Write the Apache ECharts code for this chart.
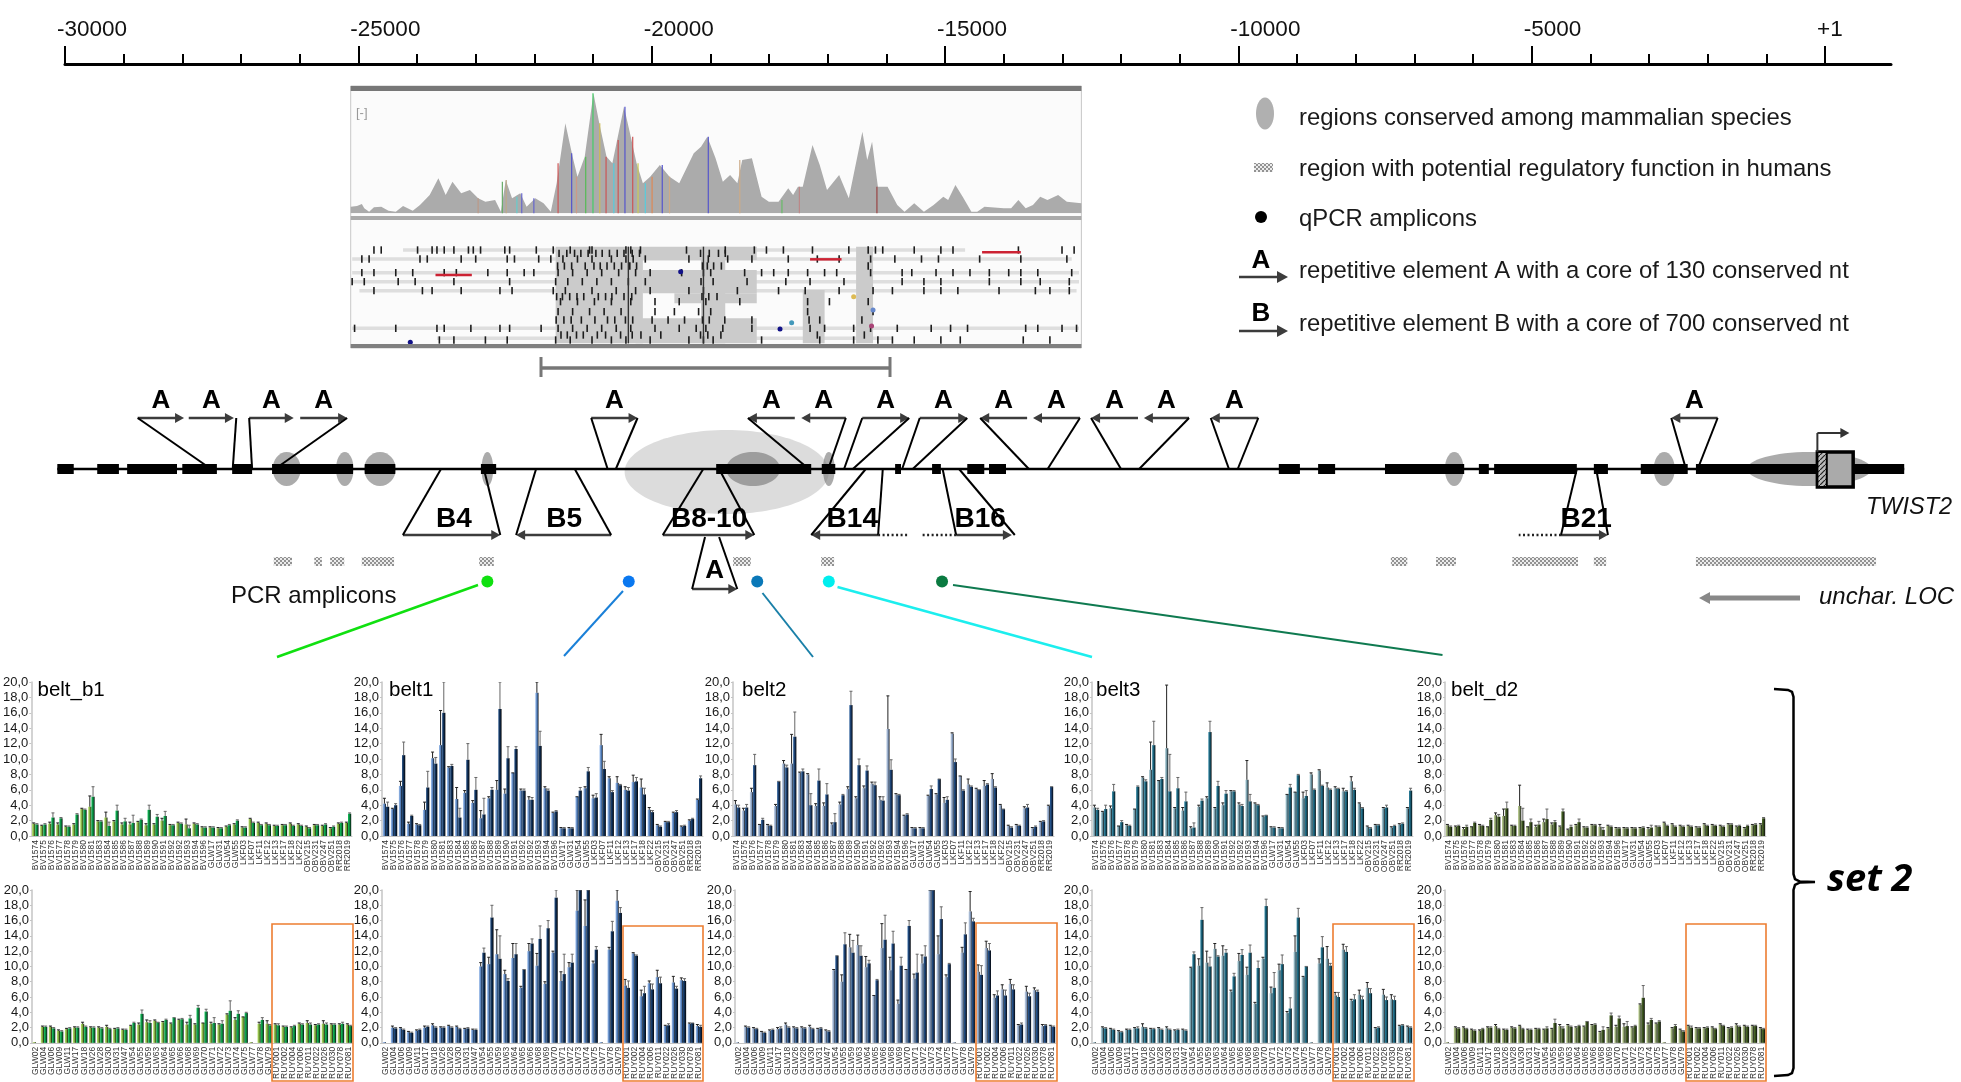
<!DOCTYPE html>
<html>
<head>
<meta charset="utf-8">
<title>TWIST2 upstream region, belt methylation</title>
<script src="https://cdn.jsdelivr.net/npm/echarts@6/dist/echarts.min.js"></script>
<style>html,body{margin:0;padding:0;background:#fff}#main{width:1961px;height:1082px}</style>
</head>
<body>
<div id="main"></div>
<script>
// 样本名
var topCats = ['BV1574','BV1575','BV1576','BV1577','BV1578','BV1579','BV1580','BV1581','BV1583','BV1584','BV1585','BV1586','BV1587','BV1588','BV1589','BV1590','BV1591','BV1592','BV1592','BV1593','BV1594','BV1596','GLW17','GLW31','GLW54','GLW55','LKF03','LKF07','LKF11','LKF12','LKF13','LKF17','LKF18','LKF22','OBV215','OBV231','OBV247','OBV251','RR2018','RR2019'];
var botCats = ['GLW02','GLW04','GLW06','GLW09','GLW11','GLW17','GLW18','GLW26','GLW28','GLW30','GLW31','GLW47','GLW54','GLW55','GLW59','GLW63','GLW64','GLW65','GLW66','GLW68','GLW69','GLW70','GLW71','GLW72','GLW73','GLW74','GLW75','GLW77','GLW78','GLW79','RUY001','RUY002','RUY004','RUY006','RUY011','RUY022','RUY026','RUY030','RUY078','RUY081'];
var yTicks = 2;

// belt_b1
var b1TopA = [1.6,1.3,1.6,1.5,1.2,1.5,3.5,3.8,1.9,2.4,1.9,1.5,1.5,1.8,1.4,1.5,2.0,1.4,1.7,1.5,1.6,1.1,1.1,1.0,1.2,1.5,1.1,2.2,1.7,1.6,1.3,1.4,1.6,1.5,1.2,1.4,1.3,1.0,1.6,1.7];
var b1TopB = [1.5,1.5,2.4,2.3,1.2,2.8,3.4,5.1,1.9,1.3,3.3,1.9,1.7,2.1,3.4,2.5,2.6,1.4,1.6,1.0,1.5,1.1,1.1,1.0,1.4,2.0,1.1,1.7,1.4,1.4,1.3,1.4,1.3,1.3,1.0,1.4,1.5,1.2,1.7,2.9];
var b1TopAErr = [1.7,1.4,1.8,1.7,1.3,1.6,3.6,5.2,2.0,3.1,2.0,1.7,1.8,1.9,1.6,1.6,2.3,1.5,1.8,2.2,1.7,1.2,1.2,1.1,1.3,1.6,1.2,2.3,1.8,1.7,1.4,1.5,1.7,1.6,1.3,1.5,1.4,1.1,1.7,1.8];
var b1TopBErr = [1.6,1.6,3.0,2.4,1.3,2.9,3.5,6.4,2.0,1.8,4.0,2.3,2.7,2.2,4.0,2.8,3.2,1.5,1.7,1.4,1.6,1.2,1.2,1.1,1.5,2.1,1.2,1.8,1.5,1.5,1.4,1.5,1.4,1.4,1.1,1.5,1.6,1.3,1.8,3.0];
var b1BotA = [0.1,2.1,2.1,1.6,1.8,2.0,2.5,2.0,2.0,2.1,1.8,1.7,2.2,2.4,2.7,2.9,2.7,2.5,3.0,2.4,2.4,2.6,2.5,2.4,3.7,3.0,3.4,0.1,2.5,2.5,2.4,2.1,2.0,2.5,2.6,2.3,2.5,2.4,2.4,2.4];
var b1BotB = [0,2.1,1.9,1.5,1.9,2.0,2.1,2.0,1.9,1.8,1.9,1.7,2.6,3.8,2.6,2.7,3.0,3.3,3.1,3.2,4.6,4.1,2.6,2.5,4.2,3.8,3.9,0,3.0,2.3,2.3,2.1,2.2,2.4,2.4,2.4,2.4,2.4,2.5,2.2];
var b1BotAErr = [0.1,2.2,2.2,1.7,1.9,2.1,2.7,2.1,2.1,2.3,1.9,1.8,2.3,2.6,3.0,3.0,2.8,2.6,3.1,2.7,2.5,2.6,2.7,2.5,3.8,3.3,3.4,0.1,2.7,2.9,2.5,2.2,2.1,2.6,2.9,2.4,2.9,2.5,2.5,2.5];
var b1BotBErr = [0,2.2,2.0,1.6,2.0,2.1,2.2,2.1,2.0,1.9,2.0,1.8,2.7,4.3,2.9,2.7,3.1,3.3,3.2,3.6,4.9,4.4,3.3,2.9,5.5,4.2,4.0,0,3.3,2.4,2.5,2.2,2.3,2.5,2.6,2.5,2.6,2.5,2.7,2.3];

// belt1
var b2TopA = [4.2,3.5,6.5,1.6,1.5,3.4,10.1,11.8,8.9,4.8,5.6,4.3,2.3,4.9,6.0,5.5,8.2,5.9,4.7,18.6,6.2,3.0,1.0,1.0,5.1,6.2,4.9,11.8,7.5,6.9,6.0,7.0,6.3,3.4,1.4,1.8,3.0,1.2,2.0,4.7];
var b2TopB = [3.8,4.0,10.5,2.6,1.4,6.3,9.4,16.0,9.1,2.4,9.9,6.0,2.8,6.0,16.5,10.1,11.3,5.9,4.7,11.7,5.9,3.2,1.0,1.0,5.9,8.4,5.0,8.7,5.7,6.6,5.9,7.1,5.4,3.1,1.2,1.8,3.1,1.3,2.2,7.5];
var b2TopAErr = [4.9,3.6,7.1,1.8,1.6,4.4,10.9,16.3,9.0,6.3,5.9,4.6,3.3,5.1,7.2,6.1,8.2,6.1,5.1,20,6.4,3.1,1.1,1.1,5.1,6.4,5.3,13.2,7.7,7.7,6.4,7.9,7.4,3.7,1.5,1.9,3.1,1.3,2.1,4.8];
var b2TopBErr = [4.4,4.2,12.2,2.7,1.5,8.4,10.2,20,9.3,3.6,12.0,7.6,4.9,6.3,20,11.6,11.6,6.1,5.0,13.6,6.1,3.3,1.1,1.1,6.3,8.9,5.5,9.7,5.9,6.7,6.3,7.6,6.2,3.3,1.3,1.9,3.3,1.4,2.3,7.8];
var b2BotA = [0.1,2.0,1.9,1.4,1.6,2.0,2.3,2.0,2.2,2.1,1.8,1.7,10.0,10.3,11.6,9.0,11.1,7.2,12.0,10.1,7.7,11.8,8.1,9.9,17.3,15.3,10.4,0.1,12.2,18.6,7.5,11.7,6.1,7.8,8.6,2.2,7.9,8.2,2.5,2.2];
var b2BotB = [0,1.9,1.7,1.3,1.7,2.1,2.0,2.0,2.0,1.8,1.9,1.7,11.8,16.4,11.0,8.1,11.6,9.6,13.0,13.6,15.0,19.0,9.0,10.5,20,20,12.2,0,14.6,17.0,7.2,11.4,6.5,7.0,7.8,2.3,7.1,8.1,2.6,2.1];
var b2BotAErr = [0.1,2.2,2.0,1.5,1.7,2.2,2.5,2.1,2.3,2.2,1.9,1.8,10.5,11.2,14.8,9.5,13.0,7.4,13.0,11.7,8.0,12.0,9.3,10.5,20,18.7,10.7,0.1,12.5,20,8.3,11.8,6.9,8.1,9.5,2.3,8.7,8.5,2.6,2.4];
var b2BotBErr = [0,2.0,1.8,1.4,1.8,2.2,2.1,2.1,2.1,1.9,2.0,1.8,12.4,18.0,14.0,8.4,13.0,9.6,13.6,15.3,16.0,20,11.6,11.6,20,20,12.6,0,15.9,17.7,8.1,11.5,7.4,7.7,8.6,2.5,7.4,8.4,2.6,2.3];

// belt2
var b3TopA = [4.1,3.3,5.7,1.5,1.4,3.9,9.4,9.4,8.2,8.0,3.9,3.9,1.5,4.1,6.1,4.9,6.2,6.8,4.7,13.9,5.4,2.6,1.0,1.0,5.2,5.4,4.3,13.3,7.8,6.7,6.1,6.5,7.4,4.0,1.3,1.4,3.6,1.0,1.8,3.9];
var b3TopB = [3.7,3.7,9.2,2.1,1.3,7.1,8.9,12.9,8.4,4.0,7.2,5.4,1.8,5.3,17.0,9.2,8.5,6.6,4.6,8.6,5.3,2.8,1.0,1.0,6.1,7.4,4.7,9.6,5.9,6.4,6.0,6.7,6.3,3.5,1.1,1.3,3.7,1.2,1.9,6.4];
var b3TopAErr = [4.6,3.6,6.2,1.5,1.5,4.1,9.8,13.2,8.3,8.1,4.2,4.3,1.7,4.4,6.4,5.1,6.5,7.0,5.1,18.2,5.5,2.7,1.1,1.1,5.3,5.5,5.0,13.4,7.8,7.4,6.2,7.2,8.1,4.1,1.4,1.5,3.8,1.1,1.9,4.0];
var b3TopBErr = [4.0,4.1,10.6,2.3,1.4,7.1,9.2,16.1,8.7,5.5,8.7,6.8,2.9,5.4,18.8,10.0,9.1,7.0,5.1,9.9,5.4,2.9,1.1,1.1,6.5,7.4,5.1,10.0,6.0,6.5,6.0,6.8,6.4,3.5,1.2,1.4,4.1,1.3,2.0,6.4];
var b3BotA = [0.1,2.1,1.9,1.4,1.6,1.8,2.4,2.0,2.0,2.1,1.8,1.6,9.5,8.0,12.5,12.8,9.9,6.2,12.4,9.5,5.1,9.6,8.4,10.4,20,11.6,8.6,0.1,11.8,17.2,9.3,12.4,5.9,7.0,7.7,2.3,6.7,6.9,2.2,2.2];
var b3BotB = [0,2.0,1.8,1.3,1.7,1.9,2.0,1.9,1.9,1.8,1.9,1.5,11.4,12.9,11.8,11.4,10.4,8.2,13.5,13.0,10.1,15.3,9.2,11.3,20,16.2,10.3,0,14.2,15.9,8.9,12.1,6.2,6.2,7.0,2.4,6.1,6.7,2.3,2.1];
var b3BotAErr = [0.1,2.2,2.0,1.5,1.7,2.0,2.6,2.1,2.1,2.3,1.9,1.7,9.6,8.9,14.2,14.1,11.3,6.2,15.6,11.2,5.6,9.6,9.0,11.5,20,14.0,8.9,0.1,12.5,19.8,10.2,13.3,6.3,7.6,8.3,2.4,7.4,7.2,2.4,2.3];
var b3BotBErr = [0,2.1,1.9,1.4,1.8,2.1,2.1,2.0,2.0,1.9,2.0,1.6,11.4,14.4,13.4,12.7,10.8,8.3,16.7,14.6,11.2,16.0,11.6,12.7,20,17.8,10.4,0,15.7,16.3,10.1,13.0,6.8,6.9,7.6,2.6,6.5,6.9,2.4,2.2];

// belt3
var b4TopA = [3.7,3.1,3.6,1.3,1.4,3.5,7.6,8.6,7.2,11.4,3.6,3.3,1.0,3.8,4.9,3.6,4.0,5.8,4.1,7.3,4.2,2.5,1.1,1.0,5.4,5.7,4.9,8.0,8.5,6.3,6.2,5.8,7.1,4.2,1.2,1.4,3.6,1.1,1.5,3.6];
var b4TopB = [3.4,3.5,5.8,1.8,1.3,6.4,7.1,11.8,7.4,5.8,6.2,4.5,1.1,4.6,13.5,6.5,5.5,5.8,3.9,4.5,4.0,2.7,1.1,1.0,6.3,7.9,5.2,6.0,6.5,6.0,6.1,5.8,6.0,3.6,1.0,1.4,3.7,1.3,1.6,5.9];
var b4TopAErr = [4.0,3.2,3.9,1.3,1.5,3.5,7.7,12.2,7.2,19.6,3.7,3.7,1.2,4.0,5.1,3.7,4.3,5.9,4.3,9.8,4.3,2.6,1.2,1.1,5.4,5.7,5.7,8.2,8.6,6.9,6.4,6.2,7.7,4.3,1.3,1.5,3.7,1.2,1.6,3.7];
var b4TopBErr = [3.6,4.0,6.7,2.0,1.4,6.5,7.3,14.9,7.6,10.6,7.6,5.7,1.7,4.8,14.9,7.1,5.9,5.9,4.1,5.4,4.1,2.7,1.2,1.1,6.7,8.0,5.9,6.1,6.6,6.1,6.2,5.9,6.2,3.7,1.1,1.5,4.0,1.4,1.7,6.2];
var b4BotA = [0.1,2.0,1.8,1.5,1.7,1.9,2.1,1.8,1.9,1.9,1.6,1.7,9.8,10.1,10.5,12.3,11.4,6.7,10.7,8.9,5.1,11.0,6.5,9.5,3.9,11.9,8.6,0.1,10.4,11.0,6.2,12.2,5.5,6.3,7.2,1.9,6.3,5.7,2.2,2.1];
var b4BotB = [0,1.9,1.7,1.4,1.7,1.9,1.9,1.8,1.7,1.7,1.7,1.6,11.6,16.1,10.0,11.3,11.8,8.7,11.5,11.8,9.8,17.9,7.2,10.3,4.5,16.4,10.0,0,12.5,10.1,6.0,11.9,5.7,5.7,6.5,2.0,5.6,5.6,2.3,2.0];
var b4BotAErr = [0.1,2.1,1.9,1.6,1.8,2.0,2.5,1.9,2.0,2.1,1.7,1.8,9.9,11.0,12.0,13.0,12.7,6.9,11.7,9.9,5.3,11.2,7.3,10.3,4.1,14.0,8.7,0.1,11.0,12.6,6.6,12.9,5.7,6.9,7.9,2.0,7.0,6.3,2.3,2.2];
var b4BotBErr = [0,2.0,1.8,1.5,1.8,2.1,2.0,1.9,1.8,1.8,1.8,1.7,11.9,17.7,11.2,11.4,12.2,9.1,12.2,12.8,10.7,18.8,9.2,11.5,5.9,17.6,10.0,0,13.9,10.4,6.6,12.6,6.3,6.1,7.1,2.1,6.0,6.1,2.4,2.1];

// belt_d2
var b5TopA = [1.4,1.2,0.9,1.2,1.4,1.2,2.7,2.6,1.3,3.9,1.2,1.2,1.8,1.5,1.2,0.8,1.4,1.1,1.4,1.2,1.3,1.0,1.0,1.0,1.0,0.9,1.2,1.7,1.5,1.3,1.3,1.1,1.5,1.4,1.3,1.5,1.2,1.0,1.4,1.5];
var b5TopB = [1.2,1.3,1.2,1.7,1.3,2.1,2.5,3.6,1.3,2.0,1.8,1.5,2.2,1.8,3.2,1.2,1.8,1.1,1.4,0.8,1.2,1.0,1.0,1.0,1.1,1.1,1.2,1.3,1.2,1.2,1.2,1.1,1.3,1.3,1.2,1.5,1.3,1.3,1.5,2.3];
var b5TopAErr = [1.5,1.3,1.1,1.2,1.5,1.2,3.0,3.5,1.4,6.6,1.2,1.4,2.2,1.7,1.3,0.9,1.5,1.2,1.5,1.5,1.4,1.1,1.1,1.1,1.1,1.1,1.3,1.8,1.6,1.4,1.4,1.2,1.6,1.5,1.4,1.6,1.3,1.1,1.5,1.6];
var b5TopBErr = [1.3,1.4,1.4,1.8,1.4,2.3,2.8,4.4,1.4,3.6,2.2,1.9,3.5,2.0,3.5,1.4,2.2,1.2,1.5,1.1,1.3,1.1,1.1,1.1,1.2,1.4,1.3,1.4,1.3,1.3,1.3,1.2,1.4,1.4,1.3,1.6,1.4,1.4,1.6,2.4];
var b5BotA = [0.1,2.0,2.0,1.7,1.6,2.0,2.2,1.7,2.0,2.2,1.7,1.8,1.7,1.8,2.2,2.3,2.0,2.1,2.3,1.4,1.9,2.1,2.1,2.0,5.0,2.4,2.5,0.1,1.9,1.7,2.2,1.9,1.9,2.0,2.4,1.9,2.3,2.2,2.2,1.9];
var b5BotB = [0,1.9,1.8,1.6,1.8,2.0,1.8,1.7,1.9,1.8,1.7,1.8,1.9,2.6,1.9,2.1,2.2,2.8,2.4,1.7,3.6,3.2,2.2,2.2,5.9,3.0,2.8,0,2.2,1.5,2.0,1.9,2.0,1.8,2.2,2.0,2.1,2.1,2.2,1.8];
var b5BotAErr = [0.1,2.1,2.1,1.8,1.7,2.1,2.4,1.8,2.1,2.3,1.8,1.9,1.8,1.9,2.4,2.4,2.1,2.2,2.4,1.5,2.0,2.3,2.5,2.1,5.1,2.6,2.6,0.1,2.0,1.8,2.3,2.0,2.0,2.1,2.5,2.0,2.5,2.3,2.3,2.0];
var b5BotBErr = [0,2.0,1.9,1.7,1.9,2.1,1.9,1.8,2.0,1.9,1.8,1.9,2.1,3.1,2.1,2.2,2.3,2.8,2.5,2.1,3.9,3.5,2.8,2.3,7.5,3.2,2.9,0,2.4,1.6,2.2,2.0,2.1,1.9,2.3,2.1,2.2,2.2,2.3,1.9];

// 顶部标尺 (bp)
var rulerMajor = [-30000,-25000,-20000,-15000,-10000,-5000,0];
var rulerMinor = [-29000,-28000,-27000,-26000,-24000,-23000,-22000,-21000,-19000,-18000,-17000,-16000,-14000,-13000,-12000,-11000,-9000,-8000,-7000,-6000,-4000,-3000,-2000,-1000];
var rulerText = ['-30000','-25000','-20000','-15000','-10000','-5000','+1'];

// 基因组轨道 (bp)
var exons = [[-30130,-29850],[-29450,-29080],[-28940,-28090],[-28000,-27410],[-27150,-26810],[-26470,-25090],[-24890,-24370],[-22910,-22650],[-18900,-17280],[-17100,-16870],[-15850,-15750],[-15220,-15070],[-14620,-14330],[-14250,-13960],[-9310,-8950],[-8640,-8350],[-7500,-6150],[-5900,-5730],[-5640,-4230],[-3940,-3700],[-3140,-2340],[-2200,1350]];
var conserved = [[-26220,240],[-25230,150],[-24630,270],[-22800,100],[-18270,460],[-16980,100],[-6320,160],[-2740,180],[-270,1060]];
var conservedBroad = [[-18720,1740]];
var regulatory = [[-26440,-26130],[-25750,-25620],[-25480,-25240],[-24940,-24390],[-22940,-22690],[-18610,-18310],[-17110,-16890],[-7400,-7120],[-6630,-6290],[-5330,-4210],[-3940,-3730],[-2200,870]];
// 箭头起点, 箭头终点, 左角, 左脚, 右角, 右脚
var repeatsA = [
  [-28760,-27970,-28760,-27510,null,null],[-27890,-27120,null,null,-27080,-27140],
  [-26860,-26100,-26860,-26810,null,null],[-25990,-25190,null,null,-25190,-26420],
  [-21030,-20240,-21030,-20750,-20240,-20610],[-17560,-18360,-18360,-17320,null,null],
  [-16690,-17450,null,null,-16690,-16990],[-16410,-15610,-16410,-16720,-15610,-16570],
  [-15430,-14620,-15430,-15730,-14620,-15550],[-13600,-14400,-14400,-13570,null,null],
  [-12700,-13500,null,null,-12700,-13250],[-11710,-12510,-12510,-12000,null,null],
  [-10840,-11610,null,null,-10840,-11690],[-9660,-10470,-10470,-10160,-9660,-10010],
  [-1830,-2620,-2620,-2370,-1830,-2170]];
var repeatsALow = [[-19310,-18540,-19310,-19090,-18540,-18850]];
// 名称, 标签位置, 箭头起点, 箭头终点, 左角, 左脚, 右角, 右脚, 虚线端
var repeatsB = [
  ['B4',-23370,-24240,-22580,-24240,-23590,-22580,-22860,null],
  ['B5',-21490,-20690,-22310,-22310,-21970,-20690,-21310,null],
  ['B8-10',-19020,-19810,-18250,-19810,-19120,-18250,-18850,null],
  ['B14',-16580,-16140,-17280,-17280,-16350,-16140,-16060,-15640],
  ['B16',-14400,-14810,-13860,-14810,-15040,-13810,-14760,-15390],
  ['B21',-4070,-4500,-3700,-4500,-4230,-3700,-3900,-5220]];
var amplicons = [[-22800,'#10e010'],[-20390,'#0a78f0'],[-18200,'#0a78b8'],[-16980,'#00eeee'],[-15050,'#0a7a40']];
var geneBox = [-130,30,480];

// 覆盖度窗口
var coverage = [[22,20],[35,22],[45,28],[50,15],[60,5],[70,18],[85,20],[100,8],[115,5],[130,22],[150,8],[165,25],[185,55],[203,105],[218,55],[232,95],[250,60],[268,70],[285,45],[300,35],[320,40],[332,5],[342,100],[355,45],[372,60],[385,20],[403,45],[420,30],[435,5],[447,90],[465,270],[480,170],[490,110],[505,170],[523,360],[535,270],[550,170],[562,150],[586,320],[600,230],[612,150],[625,90],[640,110],[660,145],[680,110],[700,90],[730,180],[745,200],[758,230],[775,165],[790,95],[805,115],[820,90],[830,160],[850,165],[870,50],[885,35],[905,35],[925,75],[935,55],[945,80],[955,80],[975,205],[990,145],[1005,70],[1030,115],[1050,45],[1078,245],[1088,160],[1098,215],[1110,80],[1130,80],[1150,25],[1165,5],[1185,30],[1205,5],[1225,25],[1245,50],[1255,40],[1270,85],[1285,50],[1303,5],[1315,5],[1330,20],[1370,15],[1385,15],[1400,40],[1415,15],[1430,25],[1445,50],[1460,40],[1482,55],[1500,35],[1530,30]];
var coverageMarks = [[285,45,'#b98'],[335,95,'#6a6'],[343,100,'#ba8'],[365,50,'#6cc'],[375,60,'#66c'],[400,45,'#66c'],[450,150,'#c55'],[478,180,'#55c'],[488,110,'#c98'],[507,170,'#5b5'],[522,360,'#4c6'],[536,270,'#cb5'],[549,170,'#c55'],[565,150,'#5cd'],[574,220,'#c55'],[588,320,'#55c'],[604,230,'#c55'],[615,150,'#cc5'],[630,90,'#5cd'],[644,110,'#d85'],[665,145,'#55c'],[680,110,'#ca8'],[760,230,'#55c'],[825,160,'#ca8'],[912,40,'#6b6'],[948,80,'#b88'],[1108,80,'#944']];
var readBands = [[510,130,1290],[537,25,1510],[578,25,1525],[605,25,1525],[632,40,1520],[745,25,1525],[775,200,1140]];
var readBlocks = [[445,625,500,790],[625,860,500,540],[625,860,570,640],[690,860,640,670],[610,860,715,790],[745,795,500,790],[955,1000,630,790],[1065,1100,500,790]];
var readRows = [
  [510,[70,85,160,190,200,215,235,265,275,290,340,350,405,440,475,515,520,590,600,620,715,795,855,880,915,975,1050,1090,1105,1120,1185,1240,1265,1400,1490,1515]],
  [520,[452,468,484,497,512,528,541,556,572,586,603,618,744,762,781,795]],
  [537,[45,60,165,180,250,280,345,360,410,435,460,490,520,560,590,605,630,720,760,800,850,925,985,1030,1095,1145,1200,1235,1320,1405,1500]],
  [558,[449,463,478,506,524,537,551,566,581,598,612,748,758,771,787,1090]],
  [578,[45,70,115,150,215,240,305,345,380,400,450,480,510,540,575,610,640,705,750,765,835,870,895,925,965,1000,1025,1095,1160,1180,1230,1265,1300,1340,1380,1405,1440,1510]],
  [605,[25,50,120,155,235,350,445,470,500,530,560,595,630,745,770,840,920,970,1040,1160,1205,1240,1340,1405,1445,1505]],
  [632,[70,170,190,250,330,355,440,465,520,570,610,640,720,750,820,905,960,1030,1100,1140,1205,1240,1275,1360,1435,1465,1505]],
  [650,[447,459,474,489,503,533,548,561,586,602,747,761,778]],
  [665,[455,490,525,560,600,650,700,755,825,965,1010,1090]],
  [695,[450,480,515,545,580,650,690,740,765,965,1100]],
  [720,[446,462,477,498,526,552,567,589,604,644,677,711,748,762,794,850,968,990,1077]],
  [745,[30,115,200,215,270,330,350,415,450,480,510,540,570,600,650,700,735,755,790,850,970,1000,1060,1095,1150,1220,1260,1295,1415,1440,1490,1520]],
  [765,[456,469,488,502,531,548,579,603,621,662,744,759,786,985,1082]],
  [780,[205,235,300,345,445,475,520,560,590,640,720,750,770,870,990,1060,1110,1140,1185,1240,1280,1410,1465]]];
var readColoured = [[197,272,585,'#c23'],[970,1035,538,'#c23'],[1325,1405,517,'#c23']];
var readDots = [[145,787,'#118'],[703,575,'#118'],[908,747,'#118'],[932,728,'#49b'],[1060,650,'#db5'],[1100,690,'#68c'],[1097,738,'#a47']];

var sans = '"Liberation Sans", Arial, sans-serif';
var chart = echarts.init(document.getElementById('main'), null, { renderer: 'canvas' });

// 点阵纹理
function makeDither() {
  var c = document.createElement('canvas');
  c.width = 4; c.height = 4;
  var g = c.getContext('2d');
  g.fillStyle = '#ececec'; g.fillRect(0, 0, 4, 4);
  g.fillStyle = '#929292';
  g.fillRect(0, 0, 2, 2); g.fillRect(2, 2, 2, 2);
  return c;
}
// 斜线纹理
function makeHatch() {
  var c = document.createElement('canvas');
  c.width = 5; c.height = 5;
  var g = c.getContext('2d');
  g.fillStyle = '#bbb'; g.fillRect(0, 0, 5, 5);
  g.strokeStyle = '#222'; g.lineWidth = 1.2;
  g.beginPath(); g.moveTo(0, 5); g.lineTo(5, 0); g.stroke();
  return c;
}
var dither = { image: makeDither(), repeat: 'repeat' };
var hatch = { image: makeHatch(), repeat: 'repeat' };

function grad(stops) {
  return { type: 'linear', x: 0, y: 0, x2: 1, y2: 0, colorStops: [
    { offset: 0, color: stops[0] }, { offset: 0.6, color: stops[1] }, { offset: 1, color: '#050505' } ] };
}

var grids = [], xAxes = [], yAxes = [], series = [];

// 0 全页叠加层: x 为 bp, y 为图上高度
grids.push({ left: 0, top: 0, width: 1961, height: 1082 });
xAxes.push({ gridIndex: 0, type: 'value', show: false, min: -31107, max: 2318 });
yAxes.push({ gridIndex: 0, type: 'value', show: false, min: 0, max: 1082, inverse: true });

function trackSeries(z, arr, draw) {
  series.push({
    type: 'custom', coordinateSystem: 'cartesian2d', xAxisIndex: 0, yAxisIndex: 0, z: z, silent: true,
    data: arr.map(function (r, i) { return [i, 0]; }),
    renderItem: function (p, api) { return draw(arr[p.dataIndex], api); }
  });
}
function at(api, x, y) { return api.coord([x, y]); }
function seg(a, b, color, w) {
  return { type: 'line', shape: { x1: a[0], y1: a[1], x2: b[0], y2: b[1] }, style: { stroke: color, lineWidth: w } };
}
function arrow(a, b, color, w) {
  var d = b[0] > a[0] ? 1 : -1;
  return [seg(a, [b[0] - d * 6, b[1]], color, w),
    { type: 'polygon', shape: { points: [[b[0], b[1]], [b[0] - d * 9, b[1] - 5], [b[0] - d * 9, b[1] + 5]] }, style: { fill: color } }];
}

var trackY = 469, aY = 418, bY = 535, aLowY = 589, aLowTop = 537;

trackSeries(1, conservedBroad, function (e, api) {
  var c = at(api, e[0], 472), r = at(api, e[0] + e[1], 472);
  return { type: 'ellipse', shape: { cx: c[0], cy: c[1], rx: r[0] - c[0], ry: 42 }, style: { fill: '#dcdcdc' } };
});
trackSeries(2, conserved, function (e, api) {
  var c = at(api, e[0], trackY), r = at(api, e[0] + e[1], trackY);
  return { type: 'ellipse', shape: { cx: c[0], cy: c[1], rx: r[0] - c[0], ry: 17 }, style: { fill: 'rgba(115,115,115,0.6)' } };
});
// 主线
trackSeries(3, [[-30130, 1350]], function (e, api) {
  return seg(at(api, e[0], trackY), at(api, e[1], trackY), '#000', 2.5);
});
trackSeries(3, exons, function (e, api) {
  var a = at(api, e[0], trackY - 5), b = at(api, e[1], trackY + 5);
  return { type: 'rect', shape: { x: a[0], y: a[1], width: b[0] - a[0], height: b[1] - a[1] }, style: { fill: '#000' } };
});
trackSeries(3, regulatory, function (e, api) {
  var a = at(api, e[0], 557), b = at(api, e[1], 566);
  return { type: 'rect', shape: { x: a[0], y: a[1], width: b[0] - a[0], height: b[1] - a[1] }, style: { fill: dither } };
});

function repeatShape(r, off, y, foot, api, text, tx, ty, font) {
  var kids = arrow(at(api, r[off], y), at(api, r[off + 1], y), '#3c3c3c', 2.5);
  if (r[off + 2] !== null) kids.push(seg(at(api, r[off + 2], y), at(api, r[off + 3], foot), '#000', 2));
  if (r[off + 4] !== null) kids.push(seg(at(api, r[off + 4], y), at(api, r[off + 5], foot), '#000', 2));
  kids.push({ type: 'text', style: { text: text, x: at(api, tx, ty)[0], y: ty, font: font, fill: '#000', align: 'center', verticalAlign: 'middle' } });
  return { type: 'group', children: kids };
}
trackSeries(4, repeatsA, function (r, api) {
  return repeatShape(r, 0, aY, trackY, api, 'A', (r[0] + r[1]) / 2, 401, 'bold 26px ' + sans);
});
trackSeries(4, repeatsALow, function (r, api) {
  return repeatShape(r, 0, aLowY, aLowTop, api, 'A', (r[0] + r[1]) / 2, 571, 'bold 26px ' + sans);
});
trackSeries(4, repeatsB, function (r, api) {
  var g = repeatShape(r, 2, bY, trackY, api, r[0], r[1], 519, 'bold 28px ' + sans);
  if (r[8] !== null) {
    var near = r[8] > r[3] ? Math.max(r[2], r[3]) : Math.min(r[2], r[3]);
    var dash = seg(at(api, near, bY), at(api, r[8], bY), '#222', 2.5);
    dash.style.lineDash = [2, 2.5];
    g.children.push(dash);
  }
  return g;
});
trackSeries(5, amplicons, function (a, api) {
  var c = at(api, a[0], 581.5);
  return { type: 'circle', shape: { cx: c[0], cy: c[1], r: 6 }, style: { fill: a[1] } };
});
// TWIST2 基因
trackSeries(5, [geneBox], function (g, api) {
  var a = at(api, g[0], 452), m = at(api, g[1], 487), b = at(api, g[2], 487);
  var kids = [
    { type: 'rect', shape: { x: a[0], y: a[1], width: b[0] - a[0], height: b[1] - a[1] }, style: { fill: '#aaa', stroke: '#000', lineWidth: 3.5 } },
    { type: 'rect', shape: { x: a[0], y: a[1], width: m[0] - a[0], height: b[1] - a[1] }, style: { fill: hatch, stroke: '#000', lineWidth: 2 } },
    seg(a, [a[0], 433], '#333', 2)
  ];
  return { type: 'group', children: kids.concat(arrow([a[0], 433], [a[0] + 32, 433], '#333', 2)) };
});

// 1 标尺
grids.push({ left: 65, top: 20, width: 1826, height: 44 });
function rulerAxis(vals, len, shift) {
  return { gridIndex: 1, type: 'value', min: -30000, max: 1125, position: 'bottom',
    axisLine: { show: shift, lineStyle: { color: '#000', width: 3 } },
    axisTick: { show: true, inside: true, length: len, customValues: vals, lineStyle: { color: '#000', width: 2 } },
    axisLabel: { show: false }, splitLine: { show: false } };
}
xAxes.push(rulerAxis(rulerMajor, 18, true));
xAxes.push(rulerAxis(rulerMinor, 10, false));
yAxes.push({ gridIndex: 1, type: 'value', show: false, min: 0, max: 1 });
series.push({
  type: 'custom', xAxisIndex: 1, yAxisIndex: 1, silent: true,
  data: rulerMajor.map(function (v) { return [v, 0]; }),
  renderItem: function (p, api) {
    var c = api.coord([api.value(0), 0]);
    return { type: 'text', style: { text: rulerText[p.dataIndex], x: c[0] - 8, y: 30, font: '22.5px ' + sans, fill: '#111', align: 'left', verticalAlign: 'middle' } };
  }
});

// 2 覆盖度
grids.push({ left: 350.7, top: 92, width: 730.7, height: 121.3 });
xAxes.push({ gridIndex: 2, type: 'value', show: false, min: 22, max: 1530 });
yAxes.push({ gridIndex: 2, type: 'value', show: false, min: 0, max: 364 });
// 3 读段
grids.push({ left: 350.7, top: 220, width: 730.7, height: 125 });
xAxes.push({ gridIndex: 3, type: 'value', show: false, min: 22, max: 1530 });
yAxes.push({ gridIndex: 3, type: 'value', show: false, min: 420, max: 795, inverse: true });

series.push({
  type: 'line', xAxisIndex: 3, yAxisIndex: 2, data: coverage, symbol: 'none', silent: true, smooth: false,
  lineStyle: { width: 0 }, areaStyle: { color: '#ababab', opacity: 1 }, z: 2
});
series.push({
  type: 'custom', xAxisIndex: 3, yAxisIndex: 2, silent: true, z: 3,
  data: coverageMarks.map(function (m) { return [m[0], m[1]]; }),
  renderItem: function (p, api) {
    return seg(api.coord([api.value(0), 0]), api.coord([api.value(0), api.value(1)]), coverageMarks[p.dataIndex][2], 1.2);
  }
});
function readsSeries(arr, draw) {
  series.push({
    type: 'custom', xAxisIndex: 4, yAxisIndex: 3, silent: true, z: 2,
    data: arr.map(function (r, i) { return [i, 500]; }),
    renderItem: function (p, api) { return draw(arr[p.dataIndex], api); }
  });
}
readsSeries(readBands, function (r, api) {
  return seg(api.coord([r[1], r[0]]), api.coord([r[2], r[0]]), '#dedede', 3.5);
});
readsSeries(readBlocks, function (r, api) {
  var a = api.coord([r[0], r[2]]), b = api.coord([r[1], r[3]]);
  return { type: 'rect', shape: { x: a[0], y: a[1], width: b[0] - a[0], height: b[1] - a[1] }, style: { fill: '#cbcbcb' } };
});
readsSeries(readRows, function (r, api) {
  return { type: 'group', children: r[1].map(function (x) {
    return seg(api.coord([x, r[0] - 11]), api.coord([x, r[0] + 11]), '#1c1c1c', 1.6);
  }) };
});
readsSeries([[595, 500, 790], [750, 500, 790]], function (r, api) {
  return seg(api.coord([r[0], r[1]]), api.coord([r[0], r[2]]), '#333', 1.4);
});
readsSeries(readColoured, function (r, api) {
  return seg(api.coord([r[0], r[2]]), api.coord([r[1], r[2]]), r[3], 2.5);
});
readsSeries(readDots, function (r, api) {
  var c = api.coord([r[0], r[1]]);
  return { type: 'circle', shape: { cx: c[0], cy: c[1], r: 2.5 }, style: { fill: r[2] } };
});

// 柱状面板
function addPanel(left, top, height, cats, a, b, aErr, bErr, cols) {
  var gi = grids.length;
  var xi = xAxes.length;
  var yi = yAxes.length;
  grids.push({ left: left, top: top, width: 321, height: height });
  xAxes.push({
    gridIndex: gi, type: 'category', data: cats, boundaryGap: true,
    axisLine: { lineStyle: { color: '#c4c4c4', width: 1 } }, axisTick: { show: false },
    axisLabel: { interval: 0, rotate: 90, fontSize: 8.5, margin: 4, color: '#333', fontFamily: sans }
  });
  yAxes.push({
    gridIndex: gi, type: 'value', min: 0, max: 20, interval: yTicks,
    axisLine: { show: true, lineStyle: { color: '#c4c4c4', width: 1.5 } },
    axisTick: { show: true, length: 2, lineStyle: { color: '#c4c4c4' } },
    splitLine: { show: false },
    axisLabel: { fontSize: 13, margin: 3, color: '#1a1a1a', fontFamily: sans,
      formatter: function (v) { return v.toFixed(1).replace('.', ','); } }
  });
  [[a, cols[0]], [b, cols[1]]].forEach(function (s) {
    series.push({ type: 'bar', xAxisIndex: xi, yAxisIndex: yi, data: s[0], barWidth: 3.2, barGap: 0, silent: true, itemStyle: { color: grad(s[1]) }, z: 2 });
  });
  [[a, aErr, -1.6, '#222'], [b, bErr, 1.6, '#666']].forEach(function (s) {
    series.push({
      type: 'custom', xAxisIndex: xi, yAxisIndex: yi, silent: true, clip: true, z: 3,
      data: cats.map(function (c, i) { return [i, s[1][i], s[0][i]]; }),
      renderItem: function (p, api) {
        var top = api.coord([api.value(0), api.value(1)]);
        var base = api.coord([api.value(0), api.value(2)]);
        if (api.value(1) <= 0.1) return null;
        var x = top[0] + s[2];
        return { type: 'group', children: [
          seg([x, base[1]], [x, top[1]], s[3], 1),
          seg([x - 1.5, top[1]], [x + 1.5, top[1]], s[3], 1)
        ] };
      }
    });
  });
}

var palB1 = [['#b9e36b', '#6f9a35'], ['#12c258', '#08793a']];
var palB2 = [['#9fc0ee', '#4a76b2'], ['#1d4a80', '#0a2240']];
var palB3 = [['#ccdaec', '#7f96b8'], ['#2a5f9c', '#142f56']];
var palB4 = [['#c2dde4', '#5f8796'], ['#2f84a0', '#114e63']];
var palB5 = [['#c2d495', '#74855a'], ['#53702f', '#2b3f16']];

addPanel(31, 682, 154, topCats, b1TopA, b1TopB, b1TopAErr, b1TopBErr, palB1);
addPanel(382, 682, 154, topCats, b2TopA, b2TopB, b2TopAErr, b2TopBErr, palB2);
addPanel(733, 682, 154, topCats, b3TopA, b3TopB, b3TopAErr, b3TopBErr, palB3);
addPanel(1092, 682, 154, topCats, b4TopA, b4TopB, b4TopAErr, b4TopBErr, palB4);
addPanel(1445, 682, 154, topCats, b5TopA, b5TopB, b5TopAErr, b5TopBErr, palB5);
addPanel(32, 890, 153, botCats, b1BotA, b1BotB, b1BotAErr, b1BotBErr, palB1);
addPanel(382, 890, 153, botCats, b2BotA, b2BotB, b2BotAErr, b2BotBErr, palB2);
addPanel(735, 890, 153, botCats, b3BotA, b3BotB, b3BotAErr, b3BotBErr, palB3);
addPanel(1092, 890, 153, botCats, b4BotA, b4BotB, b4BotAErr, b4BotBErr, palB4);
addPanel(1445, 890, 153, botCats, b5BotA, b5BotB, b5BotAErr, b5BotBErr, palB5);

// 图注, 框, 引线
function gText(text, x, y, font, align, color) {
  return { type: 'text', z: 20, silent: true, style: { text: text, x: x, y: y, font: font, fill: color || '#1a1a1a', align: align || 'left', verticalAlign: 'middle' } };
}
function gLine(x1, y1, x2, y2, color, w) {
  return { type: 'line', z: 20, silent: true, shape: { x1: x1, y1: y1, x2: x2, y2: y2 }, style: { stroke: color, lineWidth: w } };
}
function gBox(x, y, w, h) {
  return { type: 'rect', z: 20, silent: true, shape: { x: x, y: y, width: w, height: h }, style: { fill: 'transparent', stroke: '#ed7d31', lineWidth: 1.6 } };
}
function gArrow(x1, x2, y, color, w) {
  var d = x2 > x1 ? 1 : -1;
  return [gLine(x1, y, x2 - d * 8, y, color, w),
    { type: 'polygon', z: 20, silent: true, shape: { points: [[x2, y], [x2 - d * 11, y - 6], [x2 - d * 11, y + 6]] }, style: { fill: color } }];
}
var legendFont = '23.9px ' + sans;
var elements = [
  // 覆盖度框
  { type: 'rect', z: 0, silent: true, shape: { x: 350.7, y: 86, width: 730.7, height: 262 }, style: { fill: '#fbfbfb', stroke: '#c8c8c8', lineWidth: 1 } },
  { type: 'rect', z: 0, silent: true, shape: { x: 350.7, y: 86, width: 730.7, height: 5 }, style: { fill: '#777' } },
  { type: 'rect', z: 0, silent: true, shape: { x: 350.7, y: 216, width: 730.7, height: 4 }, style: { fill: '#aaa' } },
  { type: 'rect', z: 5, silent: true, shape: { x: 350.7, y: 344, width: 730.7, height: 4 }, style: { fill: '#808080' } },
  gText('[-]', 356, 113, '13px ' + sans, 'left', '#999'),
  // 区间
  gLine(541, 368, 890, 368, '#777', 3.5), gLine(541, 357, 541, 377, '#777', 3), gLine(890, 357, 890, 377, '#777', 3),
  // 图例
  { type: 'ellipse', z: 20, silent: true, shape: { cx: 1265, cy: 113.5, rx: 9, ry: 16 }, style: { fill: '#b0b0b0' } },
  gText('regions conserved among mammalian species', 1299, 118, legendFont),
  { type: 'rect', z: 20, silent: true, shape: { x: 1254, y: 163, width: 19, height: 9 }, style: { fill: dither } },
  gText('region with potential regulatory function in humans', 1299, 169, legendFont),
  { type: 'circle', z: 20, silent: true, shape: { cx: 1261, cy: 217, r: 6 }, style: { fill: '#000' } },
  gText('qPCR amplicons', 1299, 219, legendFont),
  gText('A', 1261, 261, 'bold 26px ' + sans, 'center', '#000'),
  gText('repetitive element A with a core of 130 conserved nt', 1299, 271, legendFont),
  gText('B', 1261, 314, 'bold 26px ' + sans, 'center', '#000'),
  gText('repetitive element B with a core of 700 conserved nt', 1299, 324, legendFont),
  // 其它文字
  gText('PCR amplicons', 231, 596, '24px ' + sans, 'left', '#111'),
  gText('TWIST2', 1866, 507, 'italic 23.5px ' + sans, 'left', '#111'),
  gText('unchar. LOC', 1819, 597, 'italic 24px ' + sans, 'left', '#111'),
  // 引线
  gLine(478, 585, 277, 657, '#10e010', 2.5),
  gLine(623, 591, 564, 656, '#1a80d8', 2),
  gLine(762.5, 593, 813, 657, '#1a80a8', 2),
  gLine(837.5, 587, 1092, 657, '#1ceeee', 2.5),
  gLine(953, 585, 1442.5, 655, '#0f7a50', 2),
  // 面板名
  gText('belt_b1', 37.5, 690, '20.5px ' + sans, 'left', '#000'),
  gText('belt1', 389, 690, '20.5px ' + sans, 'left', '#000'),
  gText('belt2', 742, 690, '20.5px ' + sans, 'left', '#000'),
  gText('belt3', 1096, 690, '20.5px ' + sans, 'left', '#000'),
  gText('belt_d2', 1451, 690, '20.5px ' + sans, 'left', '#000'),
  // 橙框
  gBox(272, 924, 81, 157), gBox(623, 926, 80, 155), gBox(976, 923, 81, 158), gBox(1333, 924, 81, 157), gBox(1686, 924, 80, 157),
  // 大括号
  { type: 'polyline', z: 20, silent: true,
    shape: { points: [[1774, 689], [1788, 690], [1792, 692], [1793.5, 697], [1793.5, 874], [1795, 879], [1800, 881.5], [1815, 882], [1800, 882.5], [1795, 885], [1793.5, 890], [1793.5, 1068], [1792, 1073], [1788, 1075], [1774, 1076]] },
    style: { stroke: '#000', lineWidth: 2.5, fill: 'none' } },
  gText('set 2', 1827, 880, 'italic bold 38px "Open Sans", ' + sans, 'left', '#000')
];
elements = elements.concat(gArrow(1239, 1288, 277, '#3c3c3c', 2.5), gArrow(1239, 1288, 331, '#3c3c3c', 2.5), gArrow(1800, 1699, 598, '#888', 5));

chart.setOption({
  animation: false,
  backgroundColor: '#fff',
  grid: grids,
  xAxis: xAxes,
  yAxis: yAxes,
  series: series,
  graphic: { elements: elements }
});
</script>
</body>
</html>
